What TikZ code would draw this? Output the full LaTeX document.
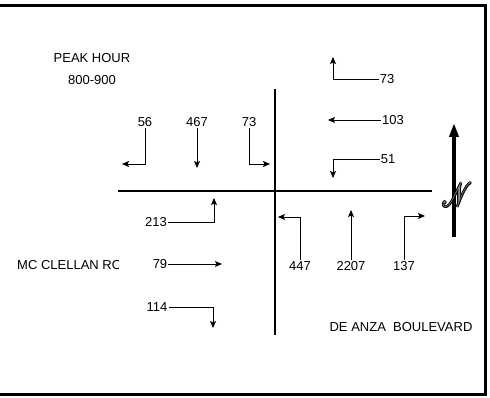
\documentclass[tikz,border=0pt]{standalone}
\usepackage{fontspec}
\setmainfont{Liberation Sans}
\usepackage{mathrsfs}
\usetikzlibrary{arrows.meta}

\tikzset{
  lbl/.style={font=\fontsize{13}{15}\selectfont, inner sep=1pt},
  mov/.style={line width=0.8pt, -{Stealth[length=7pt,width=6pt,inset=1.5pt]}},
  road/.style={line width=2.5pt},
  nletter/.style={font=\fontsize{40}{40}\selectfont, inner sep=0pt},
}
\newcommand{\nsign}{\scalebox{0.95}[1.35]{$\mathscr{N}$}}

\begin{document}
\begin{tikzpicture}[x=1pt,y=-1pt]
    \useasboundingbox (0,0) rectangle (490,398);

    % Frame
    \draw[line width=3pt] (0,6) -- (485,6) -- (485,394) -- (0,394);

    % Roads
    \coordinate (west) at (118,191);
    \coordinate (east) at (432,191);
    \coordinate (north) at (275,89);
    \coordinate (south) at (275,335);
    \draw[road] (west) -- (east);
    \draw[road] (north) -- (south);

    % Title
    \node[lbl] (peak) at (92,58) {PEAK HOUR};
    \node[lbl] (hour) at (92,80) {800-900};

    % Street names
    \begin{scope}
        \clip (0,240) rectangle (118,290);
        \node[lbl, anchor=west] (mcclellan) at (16,265) {MC CLELLAN ROAD};
    \end{scope}
    \node[lbl] (deanza) at (401,327) {DE ANZA\ \ BOULEVARD};

    % Southbound
    \node[lbl] (n56) at (145,122) {56};
    \node[lbl] (n467) at (197,122) {467};
    \node[lbl] (n73w) at (249,122) {73};
    \coordinate (t56) at (122,164);
    \coordinate (t467) at (197,168);
    \coordinate (t73w) at (270,164);
    \draw[mov] (n56.south) |- (t56);
    \draw[mov] (n467.south) -- (t467);
    \draw[mov] (n73w.south) |- (t73w);

    % Westbound
    \node[lbl] (n73e) at (387,79) {73};
    \node[lbl] (n103) at (393,120) {103};
    \node[lbl] (n51) at (388,159) {51};
    \coordinate (t73e) at (333,57);
    \coordinate (t103) at (328,120);
    \coordinate (t51) at (333,178);
    \draw[mov] (n73e.west) -| (t73e);
    \draw[mov] (n103.west) -- (t103);
    \draw[mov] (n51.west) -| (t51);

    % Eastbound
    \node[lbl] (n213) at (156,222) {213};
    \node[lbl] (n79) at (160,264) {79};
    \node[lbl] (n114) at (157,307) {114};
    \coordinate (t213) at (214,198);
    \coordinate (t79) at (222,264);
    \coordinate (t114) at (213,328);
    \draw[mov] (n213.east) -| (t213);
    \draw[mov] (n79.east) -- (t79);
    \draw[mov] (n114.east) -| (t114);

    % Northbound
    \node[lbl] (n447) at (300,266) {447};
    \node[lbl] (n2207) at (351,266) {2207};
    \node[lbl] (n137) at (404,266) {137};
    \coordinate (t447) at (278,217);
    \coordinate (t2207) at (351,210);
    \coordinate (t137) at (425,216);
    \draw[mov] (n447.north) |- (t447);
    \draw[mov] (n2207.north) -- (t2207);
    \draw[mov] (n137.north) |- (t137);

    % North arrow
    \coordinate (nbase) at (454,237);
    \coordinate (ntip) at (454,123);
    \draw[line width=3.5pt, -{Triangle[length=14pt,width=9pt]}] (nbase) -- (ntip);
    % outlined N: black copies around, grey on top
    \foreach \dx/\dy in {-1/0, 1/0, 0/-1, 0/1, -0.7/-0.7, 0.7/0.7, -0.7/0.7, 0.7/-0.7}
        \node[nletter, text=black] at (457+\dx,195+\dy) {\nsign};
    \node[nletter, text=black!45] (nsym) at (457,195) {\nsign};
\end{tikzpicture}
\end{document}
